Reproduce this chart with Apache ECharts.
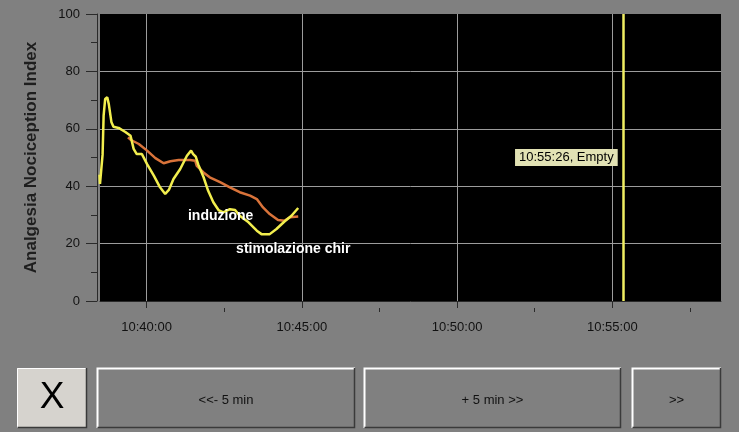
<!DOCTYPE html>
<html><head><meta charset="utf-8">
<script src="https://cdn.jsdelivr.net/npm/echarts@6/dist/echarts.min.js"></script>
<style>html,body{margin:0;padding:0;background:#808080;}#c{width:739px;height:432px;}</style>
</head><body><div id="c"></div>
<script>
// ---- data ----
const xMin = "10:38:30", xMax = "10:58:30";
const majorTicks = ["10:40:00","10:45:00","10:50:00","10:55:00"];
const minorTicks = ["10:42:30","10:47:30","10:52:30","10:57:30"];
const yMin = 0, yMax = 100, yStep = 20;
const yTitle = "Analgesia Nociception Index";

const yellowTimes = ["10:38:29","10:38:30","10:38:32","10:38:35","10:38:37","10:38:40","10:38:44","10:38:47","10:38:52","10:38:56","10:39:06","10:39:19","10:39:29","10:39:35","10:39:41","10:39:51","10:40:01","10:40:14","10:40:26","10:40:36","10:40:43","10:40:52","10:41:05","10:41:18","10:41:26","10:41:30","10:41:35","10:41:40","10:41:50","10:41:59","10:42:09","10:42:19","10:42:28","10:42:41","10:42:51","10:43:00","10:43:17","10:43:33","10:43:42","10:43:58","10:44:11","10:44:27","10:44:40","10:44:53"];
const yellowValues = [44,40.8,40.2,51,64.6,70.4,71,68.6,62.4,60.7,60.3,58.9,57.6,53,51.2,51.2,47.7,43.7,39.6,37.3,38.7,42.5,46,50.6,52.4,51.2,50.3,47.5,43.2,38.4,34.4,31.7,30.9,32,31.7,29.7,27.4,24.5,23.3,23.3,25.1,27.8,29.7,32.4];

const orangeTimes = ["10:39:24","10:39:30","10:39:45","10:40:01","10:40:17","10:40:33","10:40:46","10:41:02","10:41:24","10:41:34","10:41:37","10:41:50","10:42:02","10:42:22","10:42:41","10:43:00","10:43:20","10:43:33","10:43:45","10:43:58","10:44:14","10:44:27","10:44:37","10:44:53"];
const orangeValues = [57,56.1,54.7,52.4,49.8,48,48.7,49.1,49.1,48.9,47.1,44.8,43.1,41.4,39.6,37.9,36.7,35.5,32.6,30.3,28.2,28,29.2,29.4];

const markerTime = "10:55:22";
const markerText = "10:55:26, Empty";
const markerTextValue = 50;

const annotationTexts = ["induzione", "stimolazione chir"];
const annotationTimes = ["10:41:20", "10:42:53"];
const annotationValues = [29.6, 18.1];

const buttonLabels = ["X", "<<- 5 min", "+ 5 min >>", ">>"];

// ---- helpers ----
function toSec(s){ const p = s.split(':').map(Number); return p[0]*3600 + p[1]*60 + p[2]; }
function pad(n){ return (n<10?'0':'') + n; }
function fmt(v){ v = Math.round(v); return pad(Math.floor(v/3600)) + ':' + pad(Math.floor(v%3600/60)) + ':' + pad(v%60); }
function pairs(ts, vs){ return ts.map((t,i)=>[toSec(t), vs[i]]); }

const FONT = "'Liberation Sans', Arial, sans-serif";
const chart = echarts.init(document.getElementById('c'), null, {renderer:'canvas'});

// buttons (UI chrome)
const btnBoxes = [[17,368,70,60],[97,368,258,60],[364,368,257,60],[632,368,89,60]];
const graphics = [];
btnBoxes.forEach((b,i)=>{
  const [x,y,w,h] = b;
  const isX = i===0;
  graphics.push({type:'rect', shape:{x:x,y:y,width:w,height:h}, style:{fill: isX ? '#d6d3ce' : '#808080'}, silent:true});
  graphics.push({type:'polyline', shape:{points:[[x+0.5,y+h],[x+0.5,y+0.5],[x+w,y+0.5]]}, style:{stroke:'#ffffff', lineWidth: isX?1:2, fill:null}, silent:true});
  graphics.push({type:'polyline', shape:{points:[[x+0.5,y+h-0.5],[x+w-0.5,y+h-0.5],[x+w-0.5,y]]}, style:{stroke:'#3a3a3a', lineWidth:1.5, fill:null}, silent:true});
  graphics.push({type:'text', x:x+w/2, y:y+h/2 + (isX?0:2), style:{text:buttonLabels[i], fill: isX ? '#000' : '#111', font: isX ? ('normal 37px ' + FONT) : ('normal 13px ' + FONT), align:'center', verticalAlign:'middle'}, silent:true});
});

const option = {
  backgroundColor: '#808080',
  animation: false,
  grid: {left:100, right:18, top:14, bottom:131, show:true, backgroundColor:'#000000', borderWidth:0},
  xAxis: [{
    type:'value', min: toSec(xMin), max: toSec(xMax), position:'bottom', offset:7,
    axisLine:{show:true, lineStyle:{color:'#2a2a2a', width:1}},
    axisTick:{show:true, length:7, customValues: majorTicks.map(toSec), lineStyle:{color:'#2a2a2a'}},
    axisLabel:{show:true, customValues: majorTicks.map(toSec), formatter: fmt, color:'#111111', fontSize:13, fontFamily:FONT, margin:13},
    splitLine:{show:true, lineStyle:{color:'#9c9c9c', width:1}}
  },{
    type:'value', min: toSec(xMin), max: toSec(xMax), position:'bottom', offset:7,
    axisLine:{show:false},
    axisTick:{show:true, length:4, customValues: minorTicks.map(toSec), lineStyle:{color:'#2a2a2a'}},
    axisLabel:{show:false}, splitLine:{show:false}
  }],
  yAxis: {
    type:'value', min:yMin, max:yMax, interval:yStep, offset:3,
    name: yTitle, nameLocation:'middle', nameGap:57,
    nameTextStyle:{color:'#1e1e1e', fontWeight:'bold', fontSize:17, fontFamily:FONT},
    axisLine:{show:true, lineStyle:{color:'#2a2a2a', width:1}},
    axisTick:{show:true, length:11, lineStyle:{color:'#2a2a2a'}},
    minorTick:{show:true, splitNumber:2, length:6, lineStyle:{color:'#2a2a2a'}},
    axisLabel:{color:'#111111', fontSize:13, fontFamily:FONT, margin:17},
    splitLine:{show:true, showMinLine:false, showMaxLine:false, lineStyle:{color:'#9c9c9c', width:1}}
  },
  series: [
    {
      type:'line', name:'orange', xAxisIndex:0, data: pairs(orangeTimes, orangeValues),
      showSymbol:false, symbol:'none', lineStyle:{color:'#d9733a', width:2.5}, z:3,
      markPoint:{
        symbol:'circle', symbolSize:0, silent:true,
        data: annotationTexts.map((t,i)=>({coord:[toSec(annotationTimes[i]), annotationValues[i]], value:t,
          label:{show:true, position:'right', distance:0, formatter:t, color:'#ffffff', fontWeight:'bold', fontSize:14, fontFamily:FONT}}))
      }
    },
    {
      type:'line', name:'yellow', xAxisIndex:0, data: pairs(yellowTimes, yellowValues),
      showSymbol:false, symbol:'none', lineStyle:{color:'#f2ee4e', width:2.5}, z:4,
      markLine:{
        silent:true, symbol:['none','none'], label:{show:false},
        lineStyle:{color:'#f0ee62', width:2.5, type:'solid'},
        data:[{xAxis: toSec(markerTime)}]
      },
      markPoint:{
        symbol:'circle', symbolSize:0, silent:true,
        data:[{coord:[toSec(markerTime), markerTextValue], value:markerText,
          label:{show:true, position:'left', distance:6, formatter:markerText, color:'#000', fontSize:13, fontFamily:FONT,
            backgroundColor:'#e2e2b4', padding:[2,4,2,4]}}]
      }
    }
  ],
  graphic: graphics
};
chart.setOption(option);
</script>
</body></html>
